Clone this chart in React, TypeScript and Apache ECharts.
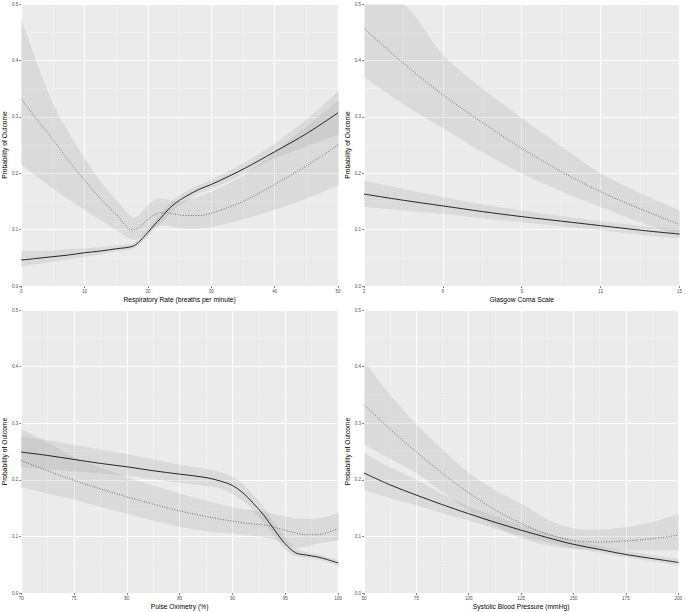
import React, { useEffect, useRef } from "react";
import * as echarts from "echarts";

// ---- Panel 1: Respiratory rate ----
const rrX = [0, 2.5, 5, 7.5, 10, 12.5, 15, 17.5, 18.5, 20, 21, 22, 23, 24, 25, 26, 28, 30, 35, 40, 45, 50];
const rrSolid = [0.046, 0.049, 0.052, 0.055, 0.059, 0.062, 0.066, 0.070, 0.077, 0.095, 0.108, 0.12, 0.133, 0.144, 0.152, 0.159, 0.171, 0.180, 0.207, 0.238, 0.27, 0.307];
const rrSolidLo = [0.035, 0.039, 0.043, 0.047, 0.052, 0.056, 0.061, 0.066, 0.072, 0.088, 0.1, 0.111, 0.123, 0.134, 0.143, 0.15, 0.164, 0.172, 0.198, 0.226, 0.248, 0.268];
const rrSolidHi = [0.062, 0.062, 0.063, 0.065, 0.067, 0.069, 0.072, 0.075, 0.083, 0.102, 0.116, 0.129, 0.142, 0.153, 0.161, 0.168, 0.179, 0.188, 0.217, 0.252, 0.295, 0.345];
const rrDotted = [0.332, 0.295, 0.26, 0.222, 0.188, 0.155, 0.127, 0.100, 0.103, 0.118, 0.126, 0.13, 0.13, 0.128, 0.126, 0.125, 0.125, 0.129, 0.15, 0.18, 0.213, 0.25];
const rrDottedLo = [0.215, 0.194, 0.173, 0.154, 0.135, 0.117, 0.099, 0.082, 0.084, 0.096, 0.103, 0.107, 0.107, 0.105, 0.103, 0.102, 0.102, 0.104, 0.118, 0.135, 0.155, 0.178];
const rrDottedHi = [0.472, 0.395, 0.324, 0.272, 0.227, 0.186, 0.153, 0.122, 0.125, 0.143, 0.152, 0.155, 0.154, 0.151, 0.15, 0.152, 0.158, 0.167, 0.195, 0.238, 0.283, 0.328];

// ---- Panel 2: Glasgow Coma Scale ----
const gcsX = [3, 4.5, 6, 7.5, 9, 10.5, 12, 13.5, 15];
const gcsSolid = [0.163, 0.152, 0.142, 0.132, 0.123, 0.115, 0.107, 0.099, 0.092];
const gcsSolidLo = [0.14, 0.134, 0.128, 0.12, 0.113, 0.106, 0.099, 0.091, 0.084];
const gcsSolidHi = [0.187, 0.172, 0.158, 0.145, 0.134, 0.124, 0.115, 0.107, 0.1];
const gcsDotted = [0.457, 0.395, 0.339, 0.29, 0.244, 0.203, 0.167, 0.137, 0.109];
const gcsDottedLo = [0.37, 0.322, 0.28, 0.237, 0.2, 0.168, 0.14, 0.113, 0.09];
const gcsDottedHi = [0.6, 0.5, 0.41, 0.35, 0.298, 0.248, 0.2, 0.165, 0.134];

// ---- Panel 3: Pulse oximetry ----
const spoX = [70, 72.5, 75, 77.5, 80, 82.5, 85, 87.5, 89, 90, 91, 92, 93, 94, 95, 96, 97, 98, 99, 100];
const spoSolid = [0.249, 0.243, 0.236, 0.229, 0.223, 0.216, 0.21, 0.204, 0.197, 0.19, 0.177, 0.158, 0.137, 0.111, 0.087, 0.071, 0.067, 0.064, 0.059, 0.053];
const spoSolidLo = [0.222, 0.218, 0.215, 0.211, 0.207, 0.201, 0.195, 0.189, 0.184, 0.175, 0.163, 0.145, 0.124, 0.1, 0.077, 0.065, 0.062, 0.059, 0.054, 0.048];
const spoSolidHi = [0.277, 0.27, 0.262, 0.254, 0.245, 0.236, 0.227, 0.219, 0.213, 0.206, 0.193, 0.173, 0.151, 0.124, 0.098, 0.079, 0.072, 0.069, 0.064, 0.058];
const spoDotted = [0.234, 0.216, 0.199, 0.184, 0.17, 0.157, 0.145, 0.135, 0.13, 0.127, 0.124, 0.122, 0.12, 0.116, 0.111, 0.106, 0.103, 0.103, 0.107, 0.114];
const spoDottedLo = [0.187, 0.176, 0.165, 0.152, 0.14, 0.128, 0.117, 0.109, 0.106, 0.105, 0.103, 0.101, 0.099, 0.094, 0.087, 0.08, 0.082, 0.087, 0.09, 0.093];
const spoDottedHi = [0.29, 0.266, 0.24, 0.222, 0.205, 0.19, 0.176, 0.163, 0.156, 0.152, 0.149, 0.146, 0.143, 0.139, 0.135, 0.132, 0.131, 0.131, 0.135, 0.142];

// ---- Panel 4: Systolic blood pressure ----
const sbpX = [50, 62.5, 75, 87.5, 100, 112.5, 125, 137.5, 150, 162.5, 175, 187.5, 200];
const sbpSolid = [0.212, 0.191, 0.173, 0.156, 0.14, 0.125, 0.111, 0.098, 0.086, 0.077, 0.068, 0.061, 0.054];
const sbpSolidLo = [0.182, 0.168, 0.155, 0.141, 0.128, 0.114, 0.101, 0.09, 0.079, 0.071, 0.063, 0.056, 0.048];
const sbpSolidHi = [0.247, 0.222, 0.2, 0.175, 0.153, 0.136, 0.12, 0.106, 0.093, 0.083, 0.074, 0.067, 0.06];
const sbpDotted = [0.333, 0.289, 0.249, 0.211, 0.177, 0.147, 0.123, 0.104, 0.093, 0.09, 0.092, 0.096, 0.102];
const sbpDottedLo = [0.263, 0.237, 0.212, 0.178, 0.145, 0.118, 0.097, 0.084, 0.078, 0.076, 0.075, 0.075, 0.075];
const sbpDottedHi = [0.409, 0.35, 0.298, 0.253, 0.212, 0.182, 0.158, 0.13, 0.114, 0.112, 0.116, 0.125, 0.139];

const xTitles = [
  "Respiratory Rate (breaths per minute)",
  "Glasgow Coma Scale",
  "Pulse Oximetry (%)",
  "Systolic Blood Pressure (mmHg)",
];
const yTitle = "Probability of Outcome";
const xRanges = [
  [0, 50, 10],
  [3, 15, 3],
  [70, 100, 5],
  [50, 200, 25],
];

const FONT = "'Liberation Sans', Arial, Helvetica, sans-serif";
const RIBBON = "rgba(150,150,150,0.19)";

function pairs(xs: number[], ys: number[]) {
  return xs.map((x, i) => [x, ys[i]]);
}

// extend a pixel-space polyline linearly beyond both ends (hidden by clipping)
function extend(pts: number[][], d: number) {
  const n = pts.length;
  const [a, b] = [pts[0], pts[1]];
  const [c, e] = [pts[n - 2], pts[n - 1]];
  const s0 = (b[1] - a[1]) / (b[0] - a[0] || 1);
  const s1 = (e[1] - c[1]) / (e[0] - c[0] || 1);
  return [[a[0] - d, a[1] - s0 * d]].concat(pts, [[e[0] + d, e[1] + s1 * d]]);
}

function ribbon(xs: number[], lo: number[], hi: number[], idx: number) {
  return {
    type: "custom",
    xAxisIndex: idx,
    yAxisIndex: idx,
    silent: true,
    clip: true,
    z: 1,
    data: xs.map((x, i) => [x, lo[i], hi[i]]),
    encode: { x: 0, y: [1, 2] },
    renderItem: (params: any, api: any) => {
      if (params.dataIndex !== 0) return null;
      const cs = params.coordSys;
      const clampY = (p: number[]) => [p[0], Math.max(cs.y - 2, Math.min(cs.y + cs.height + 2, p[1]))];
      const lower = extend(xs.map((x, i) => api.coord([x, lo[i]])), 12).map(clampY);
      const upper = extend(xs.map((x, i) => api.coord([x, hi[i]])), 12).map(clampY).reverse();
      return {
        type: "polygon",
        shape: { points: lower.concat(upper), smooth: 0.25 },
        style: { fill: RIBBON, stroke: null },
      };
    },
  };
}

function curve(xs: number[], ys: number[], idx: number, dotted: boolean) {
  return {
    type: "line",
    xAxisIndex: idx,
    yAxisIndex: idx,
    symbol: "none",
    smooth: 0.35,
    silent: true,
    z: 3,
    data: pairs(xs, ys),
    lineStyle: dotted
      ? { color: "#333", width: 0.8, type: [0.8, 1.8] }
      : { color: "#111", width: 0.9 },
  };
}

export default function App() {
  const ref = useRef<HTMLDivElement>(null);
  useEffect(() => {
    document.body.style.margin = "0";
    const chart = echarts.init(ref.current!, undefined, { renderer: "svg" });
    const grids = [
      { left: 21, top: 4, width: 317, height: 282 },
      { left: 364, top: 4, width: 316, height: 282 },
      { left: 21, top: 310, width: 317, height: 283 },
      { left: 364, top: 310, width: 316, height: 283 },
    ].map((g) => ({ ...g, show: true, backgroundColor: "#EBEBEB", borderWidth: 0 }));

    const axisCommon = {
      axisLine: { show: false },
      axisTick: { show: true, length: 2, lineStyle: { color: "#333", width: 0.6 } },
      axisLabel: { fontSize: 4.5, color: "#4D4D4D", margin: 3, fontFamily: FONT },
      splitLine: { show: true, lineStyle: { color: "#FFFFFF", width: 1 } },
      minorTick: { show: false, splitNumber: 2 },
      minorSplitLine: { show: true, lineStyle: { color: "#F5F5F5", width: 0.5 } },
      nameLocation: "middle",
      nameTextStyle: { fontSize: 6.7, color: "#000", fontFamily: FONT },
    };

    const xAxis = xRanges.map((r, i) => ({
      ...axisCommon,
      type: "value",
      gridIndex: i,
      min: r[0],
      max: r[1],
      interval: r[2],
      name: xTitles[i],
      nameGap: 10,
    }));
    const yAxis = xRanges.map((_, i) => ({
      ...axisCommon,
      type: "value",
      gridIndex: i,
      min: 0,
      max: 0.5,
      interval: 0.1,
      name: yTitle,
      nameGap: 11,
      axisLabel: { ...axisCommon.axisLabel, formatter: (v: number) => v.toFixed(1) },
    }));

    const panels = [
      [rrX, rrSolid, rrSolidLo, rrSolidHi, rrDotted, rrDottedLo, rrDottedHi],
      [gcsX, gcsSolid, gcsSolidLo, gcsSolidHi, gcsDotted, gcsDottedLo, gcsDottedHi],
      [spoX, spoSolid, spoSolidLo, spoSolidHi, spoDotted, spoDottedLo, spoDottedHi],
      [sbpX, sbpSolid, sbpSolidLo, sbpSolidHi, sbpDotted, sbpDottedLo, sbpDottedHi],
    ];
    const series: any[] = [];
    panels.forEach((p, i) => {
      const [xs, s, sLo, sHi, d, dLo, dHi] = p;
      series.push(ribbon(xs, sLo, sHi, i));
      series.push(ribbon(xs, dLo, dHi, i));
      series.push(curve(xs, s, i, false));
      series.push(curve(xs, d, i, true));
    });

    chart.setOption({
      animation: false,
      backgroundColor: "#FFFFFF",
      textStyle: { fontFamily: FONT },
      grid: grids,
      xAxis,
      yAxis,
      series,
    });
    return () => chart.dispose();
  }, []);
  return <div ref={ref} style={{ width: 685, height: 612 }} />;
}
